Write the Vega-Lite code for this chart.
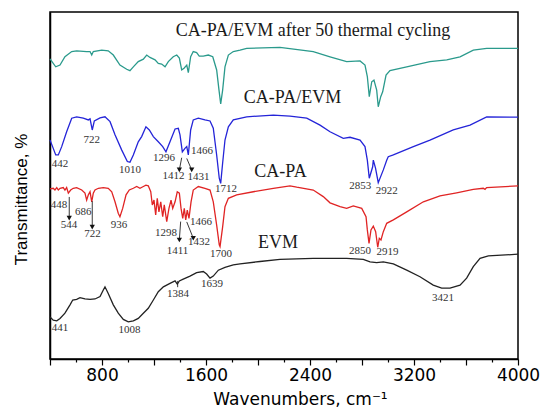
{
  "$schema": "https://vega.github.io/schema/vega-lite/v6.json",
  "width": 468,
  "height": 347,
  "autosize": "none",
  "padding": {"left": 50, "top": 12, "right": 26, "bottom": 60},
  "background": "white",
  "config": {
    "view": {"stroke": "black", "strokeWidth": 1.5},
    "axis": {"grid": false, "domainColor": "black", "domainWidth": 1.5}
  },
  "datasets": {
    "spectra": [
      {"series": "CA-PA/EVM after 50 thermal cycling", "wn": 400, "t": 86.5},
      {"series": "CA-PA/EVM after 50 thermal cycling", "wn": 444, "t": 84.2},
      {"series": "CA-PA/EVM after 50 thermal cycling", "wn": 477, "t": 84.7},
      {"series": "CA-PA/EVM after 50 thermal cycling", "wn": 515, "t": 87.1},
      {"series": "CA-PA/EVM after 50 thermal cycling", "wn": 567, "t": 88.6},
      {"series": "CA-PA/EVM after 50 thermal cycling", "wn": 605, "t": 88.8},
      {"series": "CA-PA/EVM after 50 thermal cycling", "wn": 682, "t": 88.6},
      {"series": "CA-PA/EVM after 50 thermal cycling", "wn": 708, "t": 88.6},
      {"series": "CA-PA/EVM after 50 thermal cycling", "wn": 721, "t": 87.6},
      {"series": "CA-PA/EVM after 50 thermal cycling", "wn": 733, "t": 88.6},
      {"series": "CA-PA/EVM after 50 thermal cycling", "wn": 798, "t": 89.0},
      {"series": "CA-PA/EVM after 50 thermal cycling", "wn": 848, "t": 88.8},
      {"series": "CA-PA/EVM after 50 thermal cycling", "wn": 887, "t": 87.6},
      {"series": "CA-PA/EVM after 50 thermal cycling", "wn": 938, "t": 84.7},
      {"series": "CA-PA/EVM after 50 thermal cycling", "wn": 990, "t": 83.5},
      {"series": "CA-PA/EVM after 50 thermal cycling", "wn": 1015, "t": 83.1},
      {"series": "CA-PA/EVM after 50 thermal cycling", "wn": 1041, "t": 84.2},
      {"series": "CA-PA/EVM after 50 thermal cycling", "wn": 1079, "t": 85.7},
      {"series": "CA-PA/EVM after 50 thermal cycling", "wn": 1118, "t": 86.4},
      {"series": "CA-PA/EVM after 50 thermal cycling", "wn": 1144, "t": 87.6},
      {"series": "CA-PA/EVM after 50 thermal cycling", "wn": 1169, "t": 86.9},
      {"series": "CA-PA/EVM after 50 thermal cycling", "wn": 1208, "t": 86.2},
      {"series": "CA-PA/EVM after 50 thermal cycling", "wn": 1233, "t": 85.2},
      {"series": "CA-PA/EVM after 50 thermal cycling", "wn": 1259, "t": 85.0},
      {"series": "CA-PA/EVM after 50 thermal cycling", "wn": 1285, "t": 84.2},
      {"series": "CA-PA/EVM after 50 thermal cycling", "wn": 1310, "t": 85.7},
      {"series": "CA-PA/EVM after 50 thermal cycling", "wn": 1348, "t": 87.1},
      {"series": "CA-PA/EVM after 50 thermal cycling", "wn": 1375, "t": 87.6},
      {"series": "CA-PA/EVM after 50 thermal cycling", "wn": 1395, "t": 86.7},
      {"series": "CA-PA/EVM after 50 thermal cycling", "wn": 1413, "t": 83.3},
      {"series": "CA-PA/EVM after 50 thermal cycling", "wn": 1431, "t": 83.8},
      {"series": "CA-PA/EVM after 50 thermal cycling", "wn": 1452, "t": 84.7},
      {"series": "CA-PA/EVM after 50 thermal cycling", "wn": 1464, "t": 82.5},
      {"series": "CA-PA/EVM after 50 thermal cycling", "wn": 1482, "t": 87.1},
      {"series": "CA-PA/EVM after 50 thermal cycling", "wn": 1502, "t": 88.6},
      {"series": "CA-PA/EVM after 50 thermal cycling", "wn": 1528, "t": 88.3},
      {"series": "CA-PA/EVM after 50 thermal cycling", "wn": 1548, "t": 87.3},
      {"series": "CA-PA/EVM after 50 thermal cycling", "wn": 1579, "t": 87.3},
      {"series": "CA-PA/EVM after 50 thermal cycling", "wn": 1618, "t": 87.6},
      {"series": "CA-PA/EVM after 50 thermal cycling", "wn": 1652, "t": 87.1},
      {"series": "CA-PA/EVM after 50 thermal cycling", "wn": 1682, "t": 83.3},
      {"series": "CA-PA/EVM after 50 thermal cycling", "wn": 1700, "t": 77.5},
      {"series": "CA-PA/EVM after 50 thermal cycling", "wn": 1713, "t": 73.5},
      {"series": "CA-PA/EVM after 50 thermal cycling", "wn": 1728, "t": 77.5},
      {"series": "CA-PA/EVM after 50 thermal cycling", "wn": 1746, "t": 84.2},
      {"series": "CA-PA/EVM after 50 thermal cycling", "wn": 1772, "t": 87.6},
      {"series": "CA-PA/EVM after 50 thermal cycling", "wn": 1810, "t": 88.6},
      {"series": "CA-PA/EVM after 50 thermal cycling", "wn": 1862, "t": 89.0},
      {"series": "CA-PA/EVM after 50 thermal cycling", "wn": 1913, "t": 89.5},
      {"series": "CA-PA/EVM after 50 thermal cycling", "wn": 2169, "t": 89.8},
      {"series": "CA-PA/EVM after 50 thermal cycling", "wn": 2425, "t": 88.6},
      {"series": "CA-PA/EVM after 50 thermal cycling", "wn": 2554, "t": 87.1},
      {"series": "CA-PA/EVM after 50 thermal cycling", "wn": 2682, "t": 85.7},
      {"series": "CA-PA/EVM after 50 thermal cycling", "wn": 2785, "t": 85.9},
      {"series": "CA-PA/EVM after 50 thermal cycling", "wn": 2823, "t": 84.7},
      {"series": "CA-PA/EVM after 50 thermal cycling", "wn": 2841, "t": 81.4},
      {"series": "CA-PA/EVM after 50 thermal cycling", "wn": 2856, "t": 75.6},
      {"series": "CA-PA/EVM after 50 thermal cycling", "wn": 2875, "t": 79.9},
      {"series": "CA-PA/EVM after 50 thermal cycling", "wn": 2892, "t": 80.4},
      {"series": "CA-PA/EVM after 50 thermal cycling", "wn": 2913, "t": 77.5},
      {"series": "CA-PA/EVM after 50 thermal cycling", "wn": 2925, "t": 72.7},
      {"series": "CA-PA/EVM after 50 thermal cycling", "wn": 2944, "t": 75.6},
      {"series": "CA-PA/EVM after 50 thermal cycling", "wn": 2959, "t": 77.0},
      {"series": "CA-PA/EVM after 50 thermal cycling", "wn": 2985, "t": 81.8},
      {"series": "CA-PA/EVM after 50 thermal cycling", "wn": 3015, "t": 83.1},
      {"series": "CA-PA/EVM after 50 thermal cycling", "wn": 3144, "t": 84.2},
      {"series": "CA-PA/EVM after 50 thermal cycling", "wn": 3323, "t": 85.7},
      {"series": "CA-PA/EVM after 50 thermal cycling", "wn": 3452, "t": 86.2},
      {"series": "CA-PA/EVM after 50 thermal cycling", "wn": 3554, "t": 87.1},
      {"series": "CA-PA/EVM after 50 thermal cycling", "wn": 3656, "t": 89.0},
      {"series": "CA-PA/EVM after 50 thermal cycling", "wn": 3759, "t": 89.5},
      {"series": "CA-PA/EVM after 50 thermal cycling", "wn": 4000, "t": 89.5},

      {"series": "CA-PA/EVM", "wn": 400, "t": 63.1},
      {"series": "CA-PA/EVM", "wn": 425, "t": 60.7},
      {"series": "CA-PA/EVM", "wn": 444, "t": 58.8},
      {"series": "CA-PA/EVM", "wn": 464, "t": 58.8},
      {"series": "CA-PA/EVM", "wn": 490, "t": 61.2},
      {"series": "CA-PA/EVM", "wn": 528, "t": 65.5},
      {"series": "CA-PA/EVM", "wn": 567, "t": 69.4},
      {"series": "CA-PA/EVM", "wn": 605, "t": 69.8},
      {"series": "CA-PA/EVM", "wn": 656, "t": 69.4},
      {"series": "CA-PA/EVM", "wn": 695, "t": 68.9},
      {"series": "CA-PA/EVM", "wn": 708, "t": 69.2},
      {"series": "CA-PA/EVM", "wn": 725, "t": 66.0},
      {"series": "CA-PA/EVM", "wn": 741, "t": 68.6},
      {"series": "CA-PA/EVM", "wn": 785, "t": 69.5},
      {"series": "CA-PA/EVM", "wn": 823, "t": 69.8},
      {"series": "CA-PA/EVM", "wn": 862, "t": 68.4},
      {"series": "CA-PA/EVM", "wn": 900, "t": 64.6},
      {"series": "CA-PA/EVM", "wn": 952, "t": 60.2},
      {"series": "CA-PA/EVM", "wn": 995, "t": 56.9},
      {"series": "CA-PA/EVM", "wn": 1015, "t": 56.7},
      {"series": "CA-PA/EVM", "wn": 1041, "t": 58.8},
      {"series": "CA-PA/EVM", "wn": 1079, "t": 62.6},
      {"series": "CA-PA/EVM", "wn": 1105, "t": 64.1},
      {"series": "CA-PA/EVM", "wn": 1138, "t": 66.9},
      {"series": "CA-PA/EVM", "wn": 1164, "t": 66.0},
      {"series": "CA-PA/EVM", "wn": 1195, "t": 64.1},
      {"series": "CA-PA/EVM", "wn": 1233, "t": 62.6},
      {"series": "CA-PA/EVM", "wn": 1267, "t": 61.2},
      {"series": "CA-PA/EVM", "wn": 1292, "t": 59.7},
      {"series": "CA-PA/EVM", "wn": 1323, "t": 62.6},
      {"series": "CA-PA/EVM", "wn": 1362, "t": 66.3},
      {"series": "CA-PA/EVM", "wn": 1387, "t": 66.5},
      {"series": "CA-PA/EVM", "wn": 1400, "t": 64.6},
      {"series": "CA-PA/EVM", "wn": 1418, "t": 59.7},
      {"series": "CA-PA/EVM", "wn": 1438, "t": 60.7},
      {"series": "CA-PA/EVM", "wn": 1452, "t": 61.2},
      {"series": "CA-PA/EVM", "wn": 1464, "t": 58.8},
      {"series": "CA-PA/EVM", "wn": 1482, "t": 66.0},
      {"series": "CA-PA/EVM", "wn": 1502, "t": 68.9},
      {"series": "CA-PA/EVM", "wn": 1541, "t": 69.4},
      {"series": "CA-PA/EVM", "wn": 1592, "t": 68.9},
      {"series": "CA-PA/EVM", "wn": 1631, "t": 68.6},
      {"series": "CA-PA/EVM", "wn": 1656, "t": 66.5},
      {"series": "CA-PA/EVM", "wn": 1682, "t": 58.8},
      {"series": "CA-PA/EVM", "wn": 1702, "t": 52.1},
      {"series": "CA-PA/EVM", "wn": 1713, "t": 50.6},
      {"series": "CA-PA/EVM", "wn": 1728, "t": 56.5},
      {"series": "CA-PA/EVM", "wn": 1746, "t": 63.1},
      {"series": "CA-PA/EVM", "wn": 1772, "t": 66.9},
      {"series": "CA-PA/EVM", "wn": 1810, "t": 68.9},
      {"series": "CA-PA/EVM", "wn": 1913, "t": 69.8},
      {"series": "CA-PA/EVM", "wn": 2118, "t": 70.3},
      {"series": "CA-PA/EVM", "wn": 2246, "t": 70.0},
      {"series": "CA-PA/EVM", "wn": 2375, "t": 69.4},
      {"series": "CA-PA/EVM", "wn": 2477, "t": 67.4},
      {"series": "CA-PA/EVM", "wn": 2554, "t": 65.5},
      {"series": "CA-PA/EVM", "wn": 2656, "t": 63.6},
      {"series": "CA-PA/EVM", "wn": 2708, "t": 63.9},
      {"series": "CA-PA/EVM", "wn": 2785, "t": 63.1},
      {"series": "CA-PA/EVM", "wn": 2823, "t": 61.2},
      {"series": "CA-PA/EVM", "wn": 2841, "t": 57.3},
      {"series": "CA-PA/EVM", "wn": 2856, "t": 52.1},
      {"series": "CA-PA/EVM", "wn": 2882, "t": 55.4},
      {"series": "CA-PA/EVM", "wn": 2887, "t": 57.3},
      {"series": "CA-PA/EVM", "wn": 2904, "t": 55.0},
      {"series": "CA-PA/EVM", "wn": 2925, "t": 50.8},
      {"series": "CA-PA/EVM", "wn": 2964, "t": 54.5},
      {"series": "CA-PA/EVM", "wn": 2990, "t": 57.3},
      {"series": "CA-PA/EVM", "wn": 3002, "t": 58.3},
      {"series": "CA-PA/EVM", "wn": 3041, "t": 58.8},
      {"series": "CA-PA/EVM", "wn": 3195, "t": 61.2},
      {"series": "CA-PA/EVM", "wn": 3323, "t": 63.1},
      {"series": "CA-PA/EVM", "wn": 3502, "t": 66.0},
      {"series": "CA-PA/EVM", "wn": 3631, "t": 67.4},
      {"series": "CA-PA/EVM", "wn": 3759, "t": 69.8},
      {"series": "CA-PA/EVM", "wn": 4000, "t": 69.7},

      {"series": "CA-PA", "wn": 400, "t": 49.0},
      {"series": "CA-PA", "wn": 425, "t": 49.2},
      {"series": "CA-PA", "wn": 438, "t": 48.7},
      {"series": "CA-PA", "wn": 452, "t": 49.4},
      {"series": "CA-PA", "wn": 464, "t": 48.7},
      {"series": "CA-PA", "wn": 477, "t": 49.2},
      {"series": "CA-PA", "wn": 502, "t": 49.4},
      {"series": "CA-PA", "wn": 515, "t": 48.7},
      {"series": "CA-PA", "wn": 528, "t": 49.4},
      {"series": "CA-PA", "wn": 541, "t": 47.8},
      {"series": "CA-PA", "wn": 559, "t": 48.7},
      {"series": "CA-PA", "wn": 579, "t": 49.2},
      {"series": "CA-PA", "wn": 605, "t": 49.4},
      {"series": "CA-PA", "wn": 644, "t": 48.7},
      {"series": "CA-PA", "wn": 669, "t": 47.8},
      {"series": "CA-PA", "wn": 682, "t": 45.8},
      {"series": "CA-PA", "wn": 695, "t": 47.3},
      {"series": "CA-PA", "wn": 708, "t": 48.2},
      {"series": "CA-PA", "wn": 721, "t": 45.3},
      {"series": "CA-PA", "wn": 733, "t": 47.8},
      {"series": "CA-PA", "wn": 746, "t": 48.7},
      {"series": "CA-PA", "wn": 772, "t": 49.2},
      {"series": "CA-PA", "wn": 810, "t": 49.4},
      {"series": "CA-PA", "wn": 848, "t": 49.2},
      {"series": "CA-PA", "wn": 875, "t": 48.2},
      {"series": "CA-PA", "wn": 900, "t": 45.3},
      {"series": "CA-PA", "wn": 925, "t": 42.0},
      {"series": "CA-PA", "wn": 938, "t": 41.0},
      {"series": "CA-PA", "wn": 959, "t": 43.4},
      {"series": "CA-PA", "wn": 985, "t": 47.3},
      {"series": "CA-PA", "wn": 1010, "t": 48.7},
      {"series": "CA-PA", "wn": 1041, "t": 49.2},
      {"series": "CA-PA", "wn": 1067, "t": 49.7},
      {"series": "CA-PA", "wn": 1092, "t": 49.2},
      {"series": "CA-PA", "wn": 1118, "t": 49.7},
      {"series": "CA-PA", "wn": 1138, "t": 50.1},
      {"series": "CA-PA", "wn": 1156, "t": 49.9},
      {"series": "CA-PA", "wn": 1175, "t": 48.2},
      {"series": "CA-PA", "wn": 1187, "t": 44.4},
      {"series": "CA-PA", "wn": 1200, "t": 45.8},
      {"series": "CA-PA", "wn": 1213, "t": 41.5},
      {"series": "CA-PA", "wn": 1225, "t": 46.3},
      {"series": "CA-PA", "wn": 1238, "t": 42.4},
      {"series": "CA-PA", "wn": 1252, "t": 45.3},
      {"series": "CA-PA", "wn": 1267, "t": 41.0},
      {"series": "CA-PA", "wn": 1279, "t": 44.4},
      {"series": "CA-PA", "wn": 1298, "t": 39.6},
      {"series": "CA-PA", "wn": 1315, "t": 43.4},
      {"series": "CA-PA", "wn": 1331, "t": 45.8},
      {"series": "CA-PA", "wn": 1344, "t": 43.4},
      {"series": "CA-PA", "wn": 1362, "t": 45.3},
      {"series": "CA-PA", "wn": 1379, "t": 48.2},
      {"series": "CA-PA", "wn": 1395, "t": 47.8},
      {"series": "CA-PA", "wn": 1408, "t": 43.4},
      {"series": "CA-PA", "wn": 1421, "t": 40.5},
      {"series": "CA-PA", "wn": 1433, "t": 43.4},
      {"series": "CA-PA", "wn": 1444, "t": 40.1},
      {"series": "CA-PA", "wn": 1456, "t": 42.9},
      {"series": "CA-PA", "wn": 1469, "t": 40.5},
      {"series": "CA-PA", "wn": 1485, "t": 45.3},
      {"series": "CA-PA", "wn": 1502, "t": 48.7},
      {"series": "CA-PA", "wn": 1541, "t": 49.7},
      {"series": "CA-PA", "wn": 1592, "t": 49.2},
      {"series": "CA-PA", "wn": 1631, "t": 48.7},
      {"series": "CA-PA", "wn": 1656, "t": 45.3},
      {"series": "CA-PA", "wn": 1682, "t": 38.6},
      {"series": "CA-PA", "wn": 1702, "t": 32.9},
      {"series": "CA-PA", "wn": 1708, "t": 32.4},
      {"series": "CA-PA", "wn": 1728, "t": 38.1},
      {"series": "CA-PA", "wn": 1746, "t": 43.9},
      {"series": "CA-PA", "wn": 1772, "t": 46.3},
      {"series": "CA-PA", "wn": 1836, "t": 47.3},
      {"series": "CA-PA", "wn": 1964, "t": 48.2},
      {"series": "CA-PA", "wn": 2118, "t": 49.2},
      {"series": "CA-PA", "wn": 2246, "t": 49.9},
      {"series": "CA-PA", "wn": 2298, "t": 49.5},
      {"series": "CA-PA", "wn": 2425, "t": 48.7},
      {"series": "CA-PA", "wn": 2502, "t": 46.8},
      {"series": "CA-PA", "wn": 2554, "t": 45.0},
      {"series": "CA-PA", "wn": 2631, "t": 43.9},
      {"series": "CA-PA", "wn": 2682, "t": 43.4},
      {"series": "CA-PA", "wn": 2733, "t": 44.1},
      {"series": "CA-PA", "wn": 2798, "t": 43.4},
      {"series": "CA-PA", "wn": 2831, "t": 41.0},
      {"series": "CA-PA", "wn": 2841, "t": 37.2},
      {"series": "CA-PA", "wn": 2854, "t": 33.3},
      {"series": "CA-PA", "wn": 2869, "t": 37.2},
      {"series": "CA-PA", "wn": 2887, "t": 38.3},
      {"series": "CA-PA", "wn": 2905, "t": 36.7},
      {"series": "CA-PA", "wn": 2921, "t": 32.2},
      {"series": "CA-PA", "wn": 2933, "t": 34.8},
      {"series": "CA-PA", "wn": 2946, "t": 34.3},
      {"series": "CA-PA", "wn": 2964, "t": 36.7},
      {"series": "CA-PA", "wn": 2990, "t": 39.1},
      {"series": "CA-PA", "wn": 3041, "t": 40.1},
      {"series": "CA-PA", "wn": 3144, "t": 42.4},
      {"series": "CA-PA", "wn": 3272, "t": 45.3},
      {"series": "CA-PA", "wn": 3400, "t": 47.0},
      {"series": "CA-PA", "wn": 3528, "t": 47.9},
      {"series": "CA-PA", "wn": 3656, "t": 48.9},
      {"series": "CA-PA", "wn": 3733, "t": 49.2},
      {"series": "CA-PA", "wn": 3746, "t": 48.9},
      {"series": "CA-PA", "wn": 3759, "t": 49.4},
      {"series": "CA-PA", "wn": 4000, "t": 49.9},

      {"series": "EVM", "wn": 400, "t": 12.1},
      {"series": "EVM", "wn": 425, "t": 11.2},
      {"series": "EVM", "wn": 452, "t": 11.0},
      {"series": "EVM", "wn": 477, "t": 11.7},
      {"series": "EVM", "wn": 515, "t": 13.2},
      {"series": "EVM", "wn": 554, "t": 15.6},
      {"series": "EVM", "wn": 575, "t": 17.0},
      {"series": "EVM", "wn": 605, "t": 17.2},
      {"series": "EVM", "wn": 631, "t": 17.7},
      {"series": "EVM", "wn": 669, "t": 17.3},
      {"series": "EVM", "wn": 708, "t": 17.2},
      {"series": "EVM", "wn": 746, "t": 17.3},
      {"series": "EVM", "wn": 785, "t": 18.0},
      {"series": "EVM", "wn": 810, "t": 19.9},
      {"series": "EVM", "wn": 823, "t": 20.8},
      {"series": "EVM", "wn": 848, "t": 18.9},
      {"series": "EVM", "wn": 887, "t": 15.6},
      {"series": "EVM", "wn": 925, "t": 13.2},
      {"series": "EVM", "wn": 964, "t": 11.4},
      {"series": "EVM", "wn": 1002, "t": 10.7},
      {"series": "EVM", "wn": 1041, "t": 11.0},
      {"series": "EVM", "wn": 1079, "t": 11.7},
      {"series": "EVM", "wn": 1118, "t": 13.2},
      {"series": "EVM", "wn": 1156, "t": 14.6},
      {"series": "EVM", "wn": 1195, "t": 17.0},
      {"series": "EVM", "wn": 1233, "t": 19.4},
      {"series": "EVM", "wn": 1272, "t": 20.8},
      {"series": "EVM", "wn": 1323, "t": 21.8},
      {"series": "EVM", "wn": 1362, "t": 22.5},
      {"series": "EVM", "wn": 1379, "t": 21.6},
      {"series": "EVM", "wn": 1395, "t": 22.5},
      {"series": "EVM", "wn": 1425, "t": 23.0},
      {"series": "EVM", "wn": 1477, "t": 23.9},
      {"series": "EVM", "wn": 1528, "t": 24.9},
      {"series": "EVM", "wn": 1579, "t": 25.2},
      {"series": "EVM", "wn": 1605, "t": 24.5},
      {"series": "EVM", "wn": 1631, "t": 23.3},
      {"series": "EVM", "wn": 1656, "t": 23.9},
      {"series": "EVM", "wn": 1695, "t": 25.6},
      {"series": "EVM", "wn": 1746, "t": 26.4},
      {"series": "EVM", "wn": 1810, "t": 27.1},
      {"series": "EVM", "wn": 1862, "t": 27.4},
      {"series": "EVM", "wn": 2015, "t": 28.1},
      {"series": "EVM", "wn": 2169, "t": 28.7},
      {"series": "EVM", "wn": 2425, "t": 29.0},
      {"series": "EVM", "wn": 2682, "t": 29.0},
      {"series": "EVM", "wn": 2810, "t": 28.7},
      {"series": "EVM", "wn": 2862, "t": 28.0},
      {"series": "EVM", "wn": 2913, "t": 27.8},
      {"series": "EVM", "wn": 2964, "t": 28.0},
      {"series": "EVM", "wn": 3041, "t": 27.4},
      {"series": "EVM", "wn": 3144, "t": 25.6},
      {"series": "EVM", "wn": 3246, "t": 23.7},
      {"series": "EVM", "wn": 3348, "t": 21.3},
      {"series": "EVM", "wn": 3413, "t": 20.4},
      {"series": "EVM", "wn": 3477, "t": 20.4},
      {"series": "EVM", "wn": 3554, "t": 21.3},
      {"series": "EVM", "wn": 3605, "t": 23.3},
      {"series": "EVM", "wn": 3656, "t": 26.6},
      {"series": "EVM", "wn": 3708, "t": 29.0},
      {"series": "EVM", "wn": 3772, "t": 29.7},
      {"series": "EVM", "wn": 4000, "t": 30.2}
    ],
    "peaks": [
      {"label": "442", "wn": 477, "t": 56.3},
      {"label": "722", "wn": 721, "t": 63.1},
      {"label": "1010", "wn": 1015, "t": 54.5},
      {"label": "1296", "wn": 1277, "t": 57.8},
      {"label": "1466", "wn": 1569, "t": 59.8},
      {"label": "1412", "wn": 1350, "t": 52.7},
      {"label": "1431", "wn": 1542, "t": 52.4},
      {"label": "1712", "wn": 1754, "t": 49.0},
      {"label": "2853", "wn": 2787, "t": 49.9},
      {"label": "2922", "wn": 2990, "t": 48.4},
      {"label": "448", "wn": 469, "t": 44.4},
      {"label": "686", "wn": 656, "t": 42.5},
      {"label": "544", "wn": 546, "t": 38.5},
      {"label": "722", "wn": 727, "t": 36.0},
      {"label": "936", "wn": 931, "t": 38.6},
      {"label": "1298", "wn": 1292, "t": 36.3},
      {"label": "1466", "wn": 1562, "t": 39.5},
      {"label": "1432", "wn": 1546, "t": 33.6},
      {"label": "1411", "wn": 1381, "t": 31.1},
      {"label": "1700", "wn": 1715, "t": 30.3},
      {"label": "2850", "wn": 2785, "t": 31.1},
      {"label": "2919", "wn": 2996, "t": 30.7},
      {"label": "1384", "wn": 1385, "t": 18.8},
      {"label": "1639", "wn": 1646, "t": 21.6},
      {"label": "441", "wn": 477, "t": 8.8},
      {"label": "1008", "wn": 1012, "t": 8.4},
      {"label": "3421", "wn": 3423, "t": 17.7}
    ],
    "names": [
      {"name": "CA-PA/EVM after 50 thermal cycling", "wn": 2423, "t": 93.1},
      {"name": "CA-PA/EVM", "wn": 2265, "t": 73.7},
      {"name": "CA-PA", "wn": 2173, "t": 52.4},
      {"name": "EVM", "wn": 2154, "t": 31.9}
    ],
    "arrows": [
      {"peak": "1412 (CA-PA/EVM)", "wn": 1413, "t": 58.0, "wn2": 1395, "t2": 54.5, "head": true},
      {"peak": "1431 (CA-PA/EVM)", "wn": 1452, "t": 57.8, "wn2": 1490, "t2": 54.5, "head": true},
      {"peak": "544 (CA-PA)", "wn": 548, "t": 46.7, "wn2": 548, "t2": 40.6, "head": true},
      {"peak": "722 (CA-PA)", "wn": 725, "t": 45.5, "wn2": 725, "t2": 38.0, "head": true},
      {"peak": "1411 (CA-PA)", "wn": 1405, "t": 39.6, "wn2": 1395, "t2": 34.3, "head": true},
      {"peak": "1432 (CA-PA)", "wn": 1452, "t": 39.5, "wn2": 1502, "t2": 34.8, "head": true},
      {"peak": "1384 (EVM)", "wn": 1382, "t": 22.5, "wn2": 1382, "t2": 20.7, "head": false}
    ]
  },
  "encoding": {
    "x": {
      "field": "wn",
      "type": "quantitative",
      "scale": {"domain": [400, 4000], "nice": false, "zero": false},
      "axis": {
        "title": "Wavenumbers, cm⁻¹",
        "titleFont": "DejaVu Sans",
        "titleFontSize": 17,
        "titleFontWeight": "normal",
        "titleColor": "black",
        "titleX": 250,
        "titleY": 45,
        "titleAlign": "center",
        "titleBaseline": "alphabetic",
        "values": [400, 600, 800, 1000, 1200, 1400, 1600, 1800, 2000, 2200, 2400, 2600, 2800, 3000, 3200, 3400, 3600, 3800, 4000],
        "labelExpr": "datum.value % 800 === 0 ? datum.label : ''",
        "labelFont": "DejaVu Sans",
        "labelFontSize": 17,
        "labelColor": "black",
        "labelFlush": false,
        "labelOverlap": false,
        "labelPadding": 2,
        "tickColor": "black",
        "tickWidth": 1.2,
        "tickSize": {"condition": {"test": "datum.value % 400 === 0", "value": 6}, "value": 3},
        "format": "d"
      }
    },
    "y": {
      "field": "t",
      "type": "quantitative",
      "scale": {"domain": [0, 100], "nice": false, "zero": false},
      "axis": {
        "title": "Transmittance, %",
        "titleFont": "Liberation Sans",
        "titleFontSize": 17,
        "titleFontWeight": "normal",
        "titleColor": "black",
        "titleX": -24,
        "titleY": 187,
        "titleAlign": "center",
        "titleBaseline": "alphabetic",
        "ticks": false,
        "labels": false
      }
    }
  },
  "layer": [
    {
      "data": {"name": "spectra"},
      "mark": {"type": "line", "strokeWidth": 1.3},
      "encoding": {
        "color": {
          "field": "series",
          "type": "nominal",
          "scale": {
            "domain": ["CA-PA/EVM after 50 thermal cycling", "CA-PA/EVM", "CA-PA", "EVM"],
            "range": ["#2a9a8c", "#2424d8", "#e02424", "#222222"]
          },
          "legend": null
        }
      }
    },
    {
      "data": {"name": "arrows"},
      "mark": {"type": "rule", "color": "#222222", "strokeWidth": 0.9},
      "encoding": {
        "x2": {"field": "wn2"},
        "y2": {"field": "t2"}
      }
    },
    {
      "data": {"name": "arrows"},
      "transform": [{"filter": "datum.head"}],
      "mark": {"type": "point", "shape": "triangle-down", "filled": true, "color": "#111111", "size": 28, "opacity": 1},
      "encoding": {
        "x": {"field": "wn2", "type": "quantitative"},
        "y": {"field": "t2", "type": "quantitative"}
      }
    },
    {
      "data": {"name": "peaks"},
      "mark": {"type": "text", "font": "Liberation Serif", "fontSize": 11, "color": "#333333", "align": "center", "baseline": "middle"},
      "encoding": {"text": {"field": "label"}}
    },
    {
      "data": {"name": "names"},
      "mark": {"type": "text", "font": "Liberation Serif", "fontSize": 18, "color": "#1a1a1a", "align": "center", "baseline": "alphabetic"},
      "encoding": {"text": {"field": "name"}}
    }
  ]
}
